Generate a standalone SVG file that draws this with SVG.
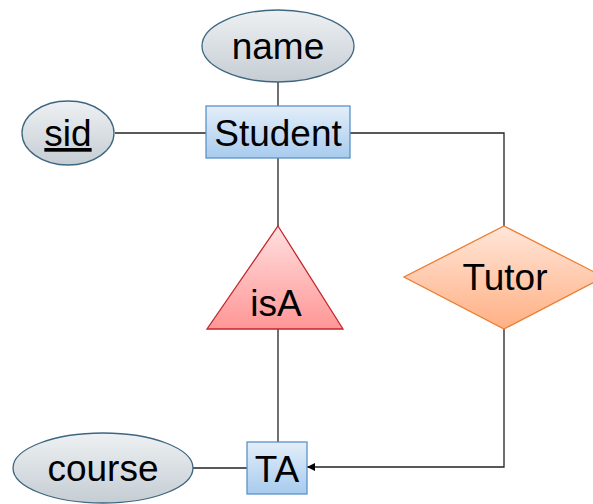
<svg xmlns="http://www.w3.org/2000/svg" width="593" height="504" viewBox="0 0 593 504">
<defs>
<linearGradient id="gEll" x1="0" y1="0" x2="0" y2="1"><stop offset="0" stop-color="#eef1f3"/><stop offset="1" stop-color="#c5cdd3"/></linearGradient>
<linearGradient id="gRect" x1="0" y1="0" x2="0" y2="1"><stop offset="0" stop-color="#e3eef9"/><stop offset="1" stop-color="#a8cbee"/></linearGradient>
<linearGradient id="gTri" x1="0" y1="0" x2="0" y2="1"><stop offset="0" stop-color="#ffe0e0"/><stop offset="1" stop-color="#ff9696"/></linearGradient>
<linearGradient id="gDia" x1="0" y1="0" x2="0" y2="1"><stop offset="0" stop-color="#ffe6d9"/><stop offset="1" stop-color="#ffb084"/></linearGradient>
<marker id="arr" viewBox="0 0 10 10" refX="10" refY="5" markerWidth="8" markerHeight="8" markerUnits="userSpaceOnUse" orient="auto"><path d="M0,0 L10,5 L0,10 z" fill="#000"/></marker>
</defs>
<style>
.ell{fill:url(#gEll);stroke:#3d6680;stroke-width:1.3}
.ent{fill:url(#gRect);stroke:#5b93c6;stroke-width:1.3}
.tri{fill:url(#gTri);stroke:#c4262c;stroke-width:1.3}
.dia{fill:url(#gDia);stroke:#ec7d31;stroke-width:1.3}
.lbl{font-family:"Liberation Sans",Arial,sans-serif;font-size:37px;fill:#000;text-anchor:middle}
.con{fill:none;stroke:#222;stroke-width:1.3}
</style>
<g id="connectors">
<line class="con" x1="278" y1="82" x2="278" y2="106"/>
<line class="con" x1="115" y1="133" x2="206" y2="133"/>
<polyline class="con" points="350,133 504,133 504,226"/>
<line class="con" x1="278" y1="158" x2="278" y2="226"/>
<line class="con" x1="278" y1="329" x2="278" y2="442"/>
<line class="con" x1="193" y1="468" x2="247" y2="468"/>
<polyline class="con" points="504,329 504,467 307,467" marker-end="url(#arr)"/>
</g>
<g id="name"><ellipse class="ell" cx="278" cy="46" rx="76" ry="36"/><text class="lbl" x="278" y="59">name</text></g>
<g id="sid"><ellipse class="ell" cx="68" cy="133" rx="46" ry="32"/><text class="lbl" x="68" y="146" text-decoration="underline">sid</text></g>
<g id="Student"><rect class="ent" x="206" y="106" width="144" height="52"/><text class="lbl" x="278" y="146">Student</text></g>
<g id="isA"><polygon class="tri" points="278,226 343,329 207,329"/><text class="lbl" x="276" y="316">isA</text></g>
<g id="Tutor"><polygon class="dia" points="504,226 604,277 504,329 404,277"/><text class="lbl" x="505" y="290">Tutor</text></g>
<g id="course"><ellipse class="ell" cx="103" cy="468" rx="90" ry="35"/><text class="lbl" x="103" y="481">course</text></g>
<g id="TA"><rect class="ent" x="247" y="442" width="60" height="52"/><text class="lbl" x="277" y="482">TA</text></g>
</svg>
